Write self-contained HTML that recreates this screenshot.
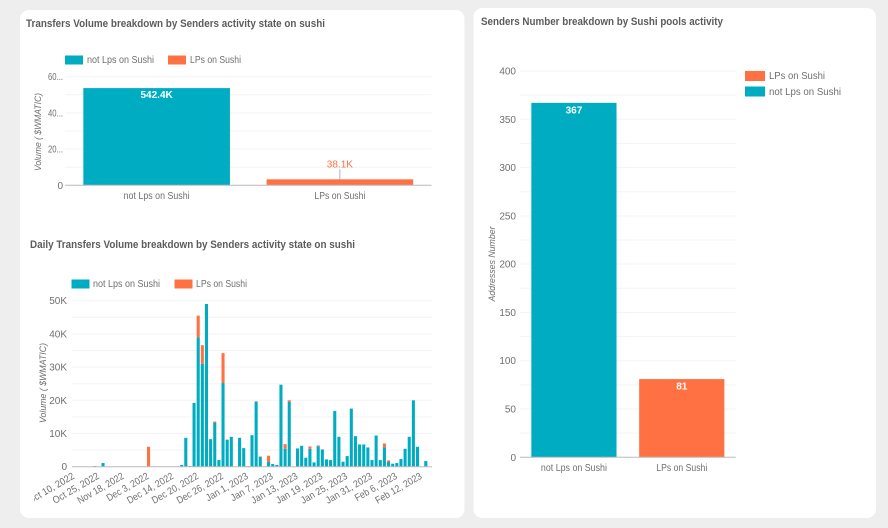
<!DOCTYPE html>
<html lang="en">
<head>
<meta charset="utf-8">
<title>Sushi senders dashboard</title>
<style>
html,body{margin:0;padding:0;background:#eeeeee;}
body{width:888px;height:528px;overflow:hidden;font-family:"Liberation Sans",sans-serif;}
svg{display:block;}
svg text{font-family:"Liberation Sans",sans-serif;fill:#6f6f6f;font-size:10px;}
svg text.title{font-weight:bold;fill:#5c5c5c;font-size:11px;}
</style>
</head>
<body>
<svg id="dash" width="888" height="528" viewBox="0 0 888 528" xmlns="http://www.w3.org/2000/svg">
  <defs>
    <clipPath id="dateClip"><rect x="34" y="470" width="420" height="50"></rect></clipPath>
  </defs>
  <rect x="0" y="0" width="888" height="528" fill="#eeeeee"></rect>
  <rect x="20" y="10" width="444.500" height="508" rx="9" fill="#ffffff"></rect>
  <rect x="473.500" y="8" width="402.500" height="510" rx="9" fill="#ffffff"></rect>

  <text class="title" x="26" y="27" textLength="299" lengthAdjust="spacingAndGlyphs">Transfers Volume breakdown by Senders activity state on sushi</text>
  <text class="title" x="30" y="248" textLength="325" lengthAdjust="spacingAndGlyphs">Daily Transfers Volume breakdown by Senders activity state on sushi</text>
  <text class="title" x="481" y="25" textLength="242" lengthAdjust="spacingAndGlyphs">Senders Number breakdown by Sushi pools activity</text>

  <g>
    <rect x="65" y="55.500" width="18" height="9" fill="#00acc1"></rect>
    <text x="87" y="63" textLength="67" lengthAdjust="spacingAndGlyphs">not Lps on Sushi</text>
    <rect x="168" y="55.500" width="18" height="9" fill="#ff7043"></rect>
    <text x="190" y="63" textLength="51" lengthAdjust="spacingAndGlyphs">LPs on Sushi</text>
  </g>
  <g>
    <rect x="71.500" y="279.500" width="18" height="9" fill="#00acc1"></rect>
    <text x="93" y="287" textLength="67" lengthAdjust="spacingAndGlyphs">not Lps on Sushi</text>
    <rect x="174.500" y="279.500" width="18" height="9" fill="#ff7043"></rect>
    <text x="196" y="287" textLength="51" lengthAdjust="spacingAndGlyphs">LPs on Sushi</text>
  </g>
  <g>
    <rect x="745" y="71" width="20" height="10" fill="#ff7043"></rect>
    <text x="769" y="79" textLength="56" lengthAdjust="spacingAndGlyphs">LPs on Sushi</text>
    <rect x="745" y="86.500" width="20" height="10" fill="#00acc1"></rect>
    <text x="769" y="95" textLength="72" lengthAdjust="spacingAndGlyphs">not Lps on Sushi</text>
  </g>

  <text transform="translate(41,132) rotate(-90)" text-anchor="middle" font-style="italic" textLength="78" lengthAdjust="spacingAndGlyphs" style="font-size:9.500px">Volume ( $WMATIC)</text>
  <text transform="translate(46,383) rotate(-90)" text-anchor="middle" font-style="italic" textLength="80" lengthAdjust="spacingAndGlyphs" style="font-size:9.500px">Volume ( $WMATIC)</text>
  <text transform="translate(495,264) rotate(-90)" text-anchor="middle" font-style="italic" textLength="75" lengthAdjust="spacingAndGlyphs" style="font-size:9.500px">Addresses Number</text>

  <g id="chartVolume"></g>
  <g id="chartDaily"></g>
  <g id="chartSenders"></g>
</svg>

<script>
var barCategories = ["not Lps on Sushi", "LPs on Sushi"];

var volumeValues = [537000, 33000];
var volumePrinted = ["542.4K", "38.1K"];
var volumeGridTicks = [0, 100000, 200000, 300000, 400000, 500000, 600000];
var volumeLabelTicks = [0, 200000, 400000, 600000];
var volumeTickLabels = ["0", "20...", "40...", "60..."];

var dailyTickLabels = ["Oct 10, 2022", "Oct 25, 2022", "Nov 18, 2022", "Dec 3, 2022", "Dec 14, 2022", "Dec 20, 2022", "Dec 26, 2022", "Jan 1, 2023", "Jan 7, 2023", "Jan 13, 2023", "Jan 19, 2023", "Jan 25, 2023", "Jan 31, 2023", "Feb 6, 2023", "Feb 12, 2023"];
var dailyNotLps = [0, 0, 0, 0, 0, 0.2, 0, 1.1, 0, 0, 0, 0, 0, 0, 0, 0, 0, 0, 0.1, 0, 0, 0, 0, 0, 0, 0, 0.5, 8.7, 0.2, 19.2, 39, 31, 49, 8.3, 13.3, 2, 25.2, 8.1, 9, 0, 8.7, 5.6, 0.1, 9.5, 19.6, 3, 0, 1.5, 0.8, 0.5, 24.7, 5.4, 19.5, 0, 5.5, 6.3, 2.7, 5.4, 1.3, 6.1, 5.2, 2.2, 2, 16.8, 9, 1.5, 3.2, 17.5, 9.2, 6.7, 6.7, 5.8, 2, 9.4, 2, 5.8, 1.4, 0.9, 1.1, 2.3, 5.4, 9, 20, 6, 0, 1.7, 0];
var dailyLps = [0, 0, 0, 0, 0, 0, 0, 0, 0, 0, 0, 0, 0, 0, 0, 0, 0, 0, 5.9, 0, 0, 0, 0, 0, 0, 0, 0, 0, 0, 0, 6.5, 5.6, 0, 0, 0.3, 0, 9, 0.1, 0, 0, 0, 0, 0.1, 0, 0.1, 0.1, 0, 1.8, 0, 0, 0, 1.4, 0.5, 0, 0, 0, 0, 0.7, 0, 0.3, 0, 0, 0, 0, 0, 0, 0, 0, 0, 0, 0, 0, 0, 0, 0, 1.2, 0.5, 0, 0, 0, 0, 0, 0, 0, 0, 0, 0];
var dailyGridTicks = [0, 5, 10, 15, 20, 25, 30, 35, 40, 45, 50];
var dailyLabelTicks = [0, 10, 20, 30, 40, 50];
var dailyYLabels = ["0", "10K", "20K", "30K", "40K", "50K"];
var dailyTickEvery = 6;

var sendersValues = [367, 81];
var sendersGridTicks = [0, 25, 50, 75, 100, 125, 150, 175, 200, 225, 250, 275, 300, 325, 350, 375, 400];
var sendersLabelTicks = [0, 50, 100, 150, 200, 250, 300, 350, 400];

var TEAL = "#00acc1";
var ORANGE = "#ff7043";
var SVGNS = "http://www.w3.org/2000/svg";

function make(parent, tag, attrs, txt) {
  var n = document.createElementNS(SVGNS, tag);
  for (var k in attrs) { n.setAttribute(k, attrs[k]); }
  if (txt !== undefined) { n.textContent = txt; }
  parent.appendChild(n);
  return n;
}

function linear(d0, d1, r0, r1) {
  return function (v) { return r0 + (v - d0) / (d1 - d0) * (r1 - r0); };
}

function drawGrid(g, ticks, y, x0, x1) {
  ticks.forEach(function (t) {
    var el = make(g, "line", { x1: x0, x2: x1, y1: y(t), y2: y(t), stroke: "#f3f3f3", "stroke-width": 1 });
    
    
  });
}

function drawYLabels(g, ticks, labels, y, x) {
  ticks.forEach(function (t, i) {
    var attrs = { x: x, y: y(t) + 3.5, "text-anchor": "end" };
    if (labels[i].indexOf("...") >= 0) {
      attrs.textLength = 15;
      attrs.lengthAdjust = "spacingAndGlyphs";
    }
    var el = make(g, "text", attrs, labels[i]);
    
    
  });
}

function drawBaseline(g, y0, x0, x1) {
  var el = make(g, "line", { x1: x0, x2: x1, y1: y0, y2: y0, stroke: "#bdbdbd", "stroke-width": 1 });
  
  
}

function drawCategoryLabels(g, x0, step, y, widths) {
  barCategories.forEach(function (c, i) {
    var el = make(g, "text", { x: x0 + step * (i + 0.5), y: y, "text-anchor": "middle", textLength: widths[i], lengthAdjust: "spacingAndGlyphs" }, c);
    
    
  });
}

/* Top-left chart */
(function () {
  var g = document.getElementById("chartVolume");
  var x0 = 65, x1 = 431.5, y = linear(0, 600000, 185.3, 76.7);
  var step = (x1 - x0) / barCategories.length, bw = step * 0.8;
  drawGrid(g, volumeGridTicks, y, x0, x1);
  drawYLabels(g, volumeLabelTicks, volumeTickLabels, y, 63);
  var colors = [TEAL, ORANGE];
  volumeValues.forEach(function (v, i) {
    var bx = x0 + step * (i + 0.5) - bw / 2;
    var bar = make(g, "rect", { x: bx, y: y(v), width: bw, height: y(0) - y(v), fill: colors[i] });
    
    
  });
  drawBaseline(g, y(0), x0, x1);
  drawCategoryLabels(g, x0, step, 199, [66, 51]);

  var cx0 = x0 + step * 0.5;
  var insideLabel = make(g, "text", { x: cx0, y: y(volumeValues[0]) + 10, "text-anchor": "middle", "font-weight": "bold", style: "fill:#ffffff;font-size:10px" }, volumePrinted[0]);
  
  

  var cx1 = x0 + step * 1.5;
  var leader = make(g, "line", { x1: cx1, x2: cx1, y1: y(volumeValues[1]) - 10, y2: y(volumeValues[1]) + 1, stroke: "#9e9e9e", "stroke-width": 0.8 });
  
  
  var outsideLabel = make(g, "text", { x: cx1, y: y(volumeValues[1]) - 12, "text-anchor": "middle", style: "fill:#ff7043;font-size:10px" }, volumePrinted[1]);
  
  
})();

/* Bottom-left stacked chart */
(function () {
  var g = document.getElementById("chartDaily");
  var x0 = 72, x1 = 432, y = linear(0, 50, 466.7, 300.7);
  var n = dailyNotLps.length;
  var step = (x1 - x0) / n, bw = step * 0.74;
  drawGrid(g, dailyGridTicks, y, x0, x1);
  drawYLabels(g, dailyLabelTicks, dailyYLabels, y, 67);
  for (var i = 0; i < n; i++) {
    var bx = x0 + step * (i + 0.5) - bw / 2;
    var a = dailyNotLps[i], b = dailyLps[i];
    if (a > 0) {
      var ra = make(g, "rect", { x: bx, y: y(a), width: bw, height: y(0) - y(a), fill: TEAL });
      
      
    }
    if (b > 0) {
      var rb = make(g, "rect", { x: bx, y: y(a + b), width: bw, height: y(a) - y(a + b), fill: ORANGE });
      
      
    }
  }
  drawBaseline(g, y(0), x0, x1);
  var labels = make(g, "g", { "clip-path": "url(#dateClip)" });
  
  
  dailyTickLabels.forEach(function (t, k) {
    var tx = x0 + step * (k * dailyTickEvery + 0.5) + 1;
    var el = make(labels, "text", { transform: "translate(" + tx + ",478) rotate(-30)", "text-anchor": "end", textLength: t.length > 11 ? 52 : 47, lengthAdjust: "spacingAndGlyphs" }, t);
    
    
  });
})();

/* Right chart */
(function () {
  var g = document.getElementById("chartSenders");
  var x0 = 520, x1 = 735.7, y = linear(0, 400, 457.3, 71);
  var step = (x1 - x0) / barCategories.length, bw = step * 0.79;
  drawGrid(g, sendersGridTicks, y, x0, x1);
  drawYLabels(g, sendersLabelTicks, sendersLabelTicks.map(String), y, 516);
  var colors = [TEAL, ORANGE];
  sendersValues.forEach(function (v, i) {
    var cx = x0 + step * (i + 0.5);
    var bar = make(g, "rect", { x: cx - bw / 2, y: y(v), width: bw, height: y(0) - y(v), fill: colors[i] });
    
    
    var lab = make(g, "text", { x: cx, y: y(v) + 10.5, "text-anchor": "middle", "font-weight": "bold", style: "fill:#ffffff;font-size:10px" }, String(v));
    
    
  });
  drawBaseline(g, y(0), x0, x1);
  drawCategoryLabels(g, x0, step, 471, [66, 51]);
})();
</script>
</body>
</html>
